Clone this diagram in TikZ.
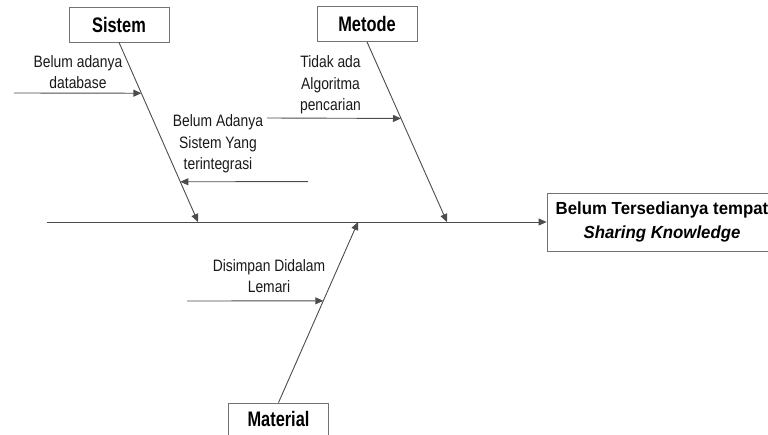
\documentclass[tikz,border=0pt]{standalone}
\usepackage{fontspec}
\setmainfont{Liberation Sans}
\newfontfamily\causefont{Liberation Sans}[FakeStretch=0.84]
\newfontfamily\catfont{Liberation Sans}[FakeStretch=0.78]
\newfontfamily\effectfont{Liberation Sans}[FakeStretch=0.96]
\usetikzlibrary{arrows.meta,calc}

\tikzset{
  bone/.style={draw=black!70, line width=0.9pt},
  tip/.style={-{Triangle[length=8pt,width=7pt]}},
  catbox/.style={draw=black!55, line width=0.8pt, fill=white, inner sep=0pt,
    minimum width=100pt, minimum height=35pt,
    font=\catfont\fontsize{21}{24}\selectfont\bfseries, text=black},
  cause/.style={inner sep=0pt, align=center, text=black!90,
    font=\causefont\fontsize{16.5}{21.5}\selectfont},
  effectbox/.style={draw=black!55, line width=0.8pt, inner sep=0pt,
    minimum width=230pt, minimum height=58pt, align=center, text=black,
    font=\effectfont\fontsize{17.5}{24}\selectfont\bfseries},
}

\begin{document}
\begin{tikzpicture}[x=1pt,y=-1pt]
\useasboundingbox (0,0) rectangle (768,434);
\clip (0,0) rectangle (768,434);

% category boxes and the effect
\node[catbox] (sis) at (119,24.5) {Sistem};
\node[catbox] (met) at (367,24) {Metode};
\node[catbox, minimum height=32pt] (mat) at (278.5,419) {Material};
\node[effectbox] (res) at (662,222) {Belum Tersedianya tempat\\\textit{Sharing Knowledge}};

% spine
\coordinate (spineStart) at (47,222);
\draw[bone, tip] (spineStart) -- (res.west);

% main bones
\coordinate (sisEnd) at (198,222);
\coordinate (metEnd) at (447,222);
\coordinate (matEnd) at (358,222);
\draw[bone, tip] (sis.south) -- (sisEnd);
\draw[bone, tip] (met.south) -- (metEnd);
\draw[bone, tip] (mat.north) -- (matEnd);

% cause arrows
\coordinate (a1) at ($(sis.south)!0.283!(sisEnd)$);
\coordinate (a1s) at (14,93);
\draw[bone, tip] (a1s) -- (a1);

\coordinate (a2) at ($(sis.south)!0.776!(sisEnd)$);
\coordinate (a2s) at (308,181.6);
\draw[bone, tip] (a2s) -- (a2);

\coordinate (a3) at ($(met.south)!0.425!(metEnd)$);
\coordinate (a3s) at (267,118);
\draw[bone, tip] (a3s) -- (a3);

\coordinate (a4) at ($(mat.north)!0.5635!(matEnd)$);
\coordinate (a4s) at (187,301);
\draw[bone, tip] (a4s) -- (a4);

% cause labels
\node[cause] (t1) at (78,72) {Belum adanya\\database};
\node[cause] (t2) at (218,144) {Belum Adanya\\Sistem Yang\\terintegrasi};
\node[cause] (t3) at (330.5,85) {Tidak ada\\Algoritma\\pencarian};
\node[cause] (t4) at (269,276) {Disimpan Didalam\\Lemari};
\end{tikzpicture}
\end{document}
